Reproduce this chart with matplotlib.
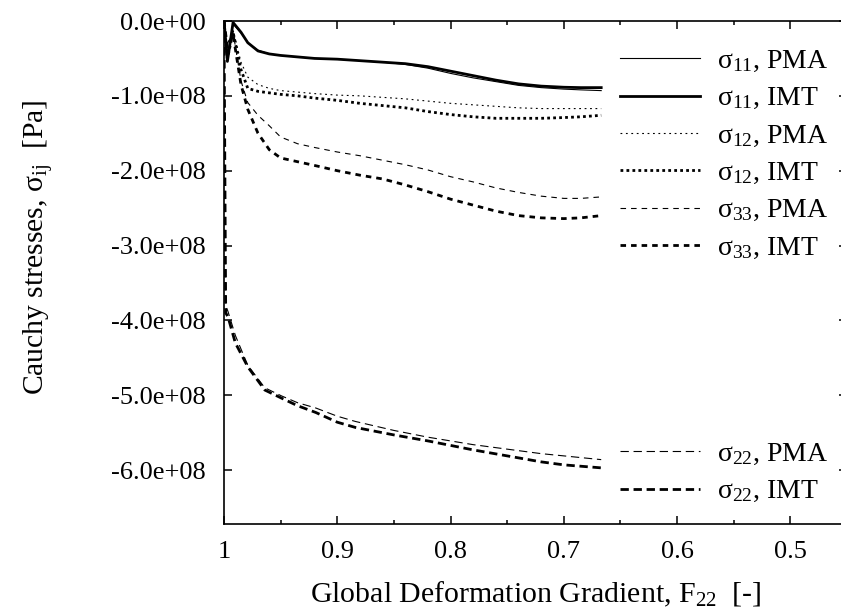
import matplotlib
matplotlib.use('Agg')
import numpy as np
import matplotlib.pyplot as plt
from matplotlib.ticker import FuncFormatter, MultipleLocator

#serif fonts like the gnuplot Times output
plt.rcParams['font.family'] = ['Liberation Serif', 'DejaVu Serif']
plt.rcParams['mathtext.fontset'] = 'custom'
plt.rcParams['mathtext.rm'] = 'Liberation Serif'
plt.rcParams['mathtext.it'] = 'Liberation Serif:italic'
plt.rcParams['lines.scale_dashes'] = False

#global deformation gradient F22 (sampling for sigma11, sigma12, sigma33)
f22 = [1.0, 0.997, 0.992, 0.985, 0.979, 0.97, 0.96, 0.95, 0.935, 0.92, 0.9, 0.88,
       0.86, 0.84, 0.82, 0.8, 0.78, 0.76, 0.74, 0.72, 0.7, 0.685, 0.667]
#stresses in units of 1e8 Pa
s11_pma = [0, -0.52, -0.04, -0.16, -0.29, -0.39, -0.44, -0.46, -0.48, -0.5, -0.51, -0.53,
           -0.55, -0.58, -0.63, -0.7, -0.76, -0.81, -0.86, -0.89, -0.91, -0.92, -0.93]
s11_imt = [0, -0.54, -0.02, -0.15, -0.29, -0.4, -0.44, -0.46, -0.48, -0.5, -0.51, -0.53,
           -0.55, -0.57, -0.61, -0.67, -0.73, -0.79, -0.84, -0.87, -0.885, -0.89, -0.89]
s12_pma = [0, -0.45, -0.12, -0.55, -0.75, -0.85, -0.9, -0.93, -0.95, -0.97, -0.99, -1.0,
           -1.02, -1.04, -1.07, -1.1, -1.12, -1.14, -1.16, -1.17, -1.17, -1.17, -1.17]
s12_imt = [0, -0.5, -0.15, -0.65, -0.9, -0.94, -0.96, -0.98, -1.0, -1.03, -1.06, -1.1,
           -1.13, -1.16, -1.21, -1.25, -1.28, -1.3, -1.3, -1.3, -1.29, -1.28, -1.26]
s33_pma = [0, -0.3, -0.15, -0.8, -1.09, -1.26, -1.4, -1.55, -1.64, -1.69, -1.75, -1.8,
           -1.86, -1.92, -1.99, -2.08, -2.15, -2.23, -2.29, -2.34, -2.37, -2.37, -2.35]
s33_imt = [0, -0.35, -0.18, -0.85, -1.18, -1.5, -1.72, -1.83, -1.88, -1.93, -2.0, -2.06,
           -2.11, -2.19, -2.28, -2.38, -2.46, -2.54, -2.6, -2.63, -2.64, -2.63, -2.6]

#sampling for sigma22
f22_b = [1.0, 0.9985, 0.9965, 0.99, 0.979, 0.964, 0.949, 0.935, 0.919, 0.9, 0.884,
         0.85, 0.82, 0.78, 0.75, 0.72, 0.7, 0.667]
s22_pma = [0, -3.8, -3.88, -4.2, -4.6, -4.9, -5.01, -5.1, -5.17, -5.28, -5.35,
           -5.47, -5.56, -5.66, -5.72, -5.78, -5.81, -5.86]
s22_imt = [0, -3.9, -3.95, -4.3, -4.62, -4.93, -5.04, -5.14, -5.23, -5.36, -5.43,
           -5.53, -5.61, -5.73, -5.81, -5.89, -5.93, -5.97]

yticks = [0, -1e8, -2e8, -3e8, -4e8, -5e8, -6e8]
xticks = [1.0, 0.9, 0.8, 0.7, 0.6, 0.5]
xticklabels = ['1', '0.9', '0.8', '0.7', '0.6', '0.5']

fig = plt.figure(figsize=(8.41, 6.16), dpi=100)
#axes box runs slightly past the right edge of the image, as in the original
ax = fig.add_axes([224/841, 92/616, 623/841, 503/616])

thin = 0.8
thick = 2.0
sc = 1e8
l1, = ax.plot(f22, np.array(s11_pma)*sc, 'k-', lw=thin)
l2, = ax.plot(f22, np.array(s11_imt)*sc, 'k-', lw=thick)
l3, = ax.plot(f22, np.array(s12_pma)*sc, 'k', lw=thin, ls=(0, (1.3, 2.6)))
l4, = ax.plot(f22, np.array(s12_imt)*sc, 'k', lw=thick, ls=(0, (2.0, 2.3)))
l5, = ax.plot(f22, np.array(s33_pma)*sc, 'k', lw=thin, ls=(0, (4.0, 3.6)))
l6, = ax.plot(f22, np.array(s33_imt)*sc, 'k', lw=thick, ls=(0, (4.0, 3.6)))
l7, = ax.plot(f22_b, np.array(s22_pma)*sc, 'k', lw=thin, ls=(0, (6.0, 3.4)))
l8, = ax.plot(f22_b, np.array(s22_imt)*sc, 'k', lw=thick, ls=(0, (6.0, 3.4)))

ax.set_xlim(1.0, 0.45)
ax.set_ylim(-6.72e8, 0)
ax.set_xticks(xticks)
ax.set_xticklabels(xticklabels)
ax.xaxis.set_minor_locator(MultipleLocator(0.05))
ax.set_yticks(yticks)
ax.yaxis.set_major_formatter(FuncFormatter(lambda v, p: '{:.1e}'.format(v)))
ax.tick_params(which='both', direction='in', top=True, right=True, labelsize=19, width=1.1)
ax.tick_params(which='major', length=6)
ax.tick_params(which='minor', length=3)
ax.tick_params(axis='x', pad=12)
ax.tick_params(axis='y', pad=13)
for s in ax.spines.values():
    s.set_linewidth(1.2)

ax.set_xlabel('Global Deformation Gradient, F$_{22}$  [-]', fontsize=21.5, labelpad=12)
ax.set_ylabel('Cauchy stresses, \u03c3$_{\\rm ij}$  [Pa]', fontsize=21.3)
ax.yaxis.set_label_coords(-0.272, 0.551)

labs = ['\u03c3$_{11}$, PMA', '\u03c3$_{11}$, IMT', '\u03c3$_{12}$, PMA', '\u03c3$_{12}$, IMT',
        '\u03c3$_{33}$, PMA', '\u03c3$_{33}$, IMT']
leg_kw = dict(loc='upper left', bbox_transform=fig.transFigure, frameon=False,
              fontsize=20, handlelength=2.88, handletextpad=0.6, labelspacing=0.425,
              borderpad=0, borderaxespad=0)
leg1 = ax.legend([l1, l2, l3, l4, l5, l6], labs,
                 bbox_to_anchor=(620/841, 1 - 48.5/616), **leg_kw)
ax.add_artist(leg1)
ax.legend([l7, l8], ['\u03c3$_{22}$, PMA', '\u03c3$_{22}$, IMT'],
          bbox_to_anchor=(620/841, 1 - 441.5/616), **leg_kw)

fig.savefig('out.png', dpi=100)
